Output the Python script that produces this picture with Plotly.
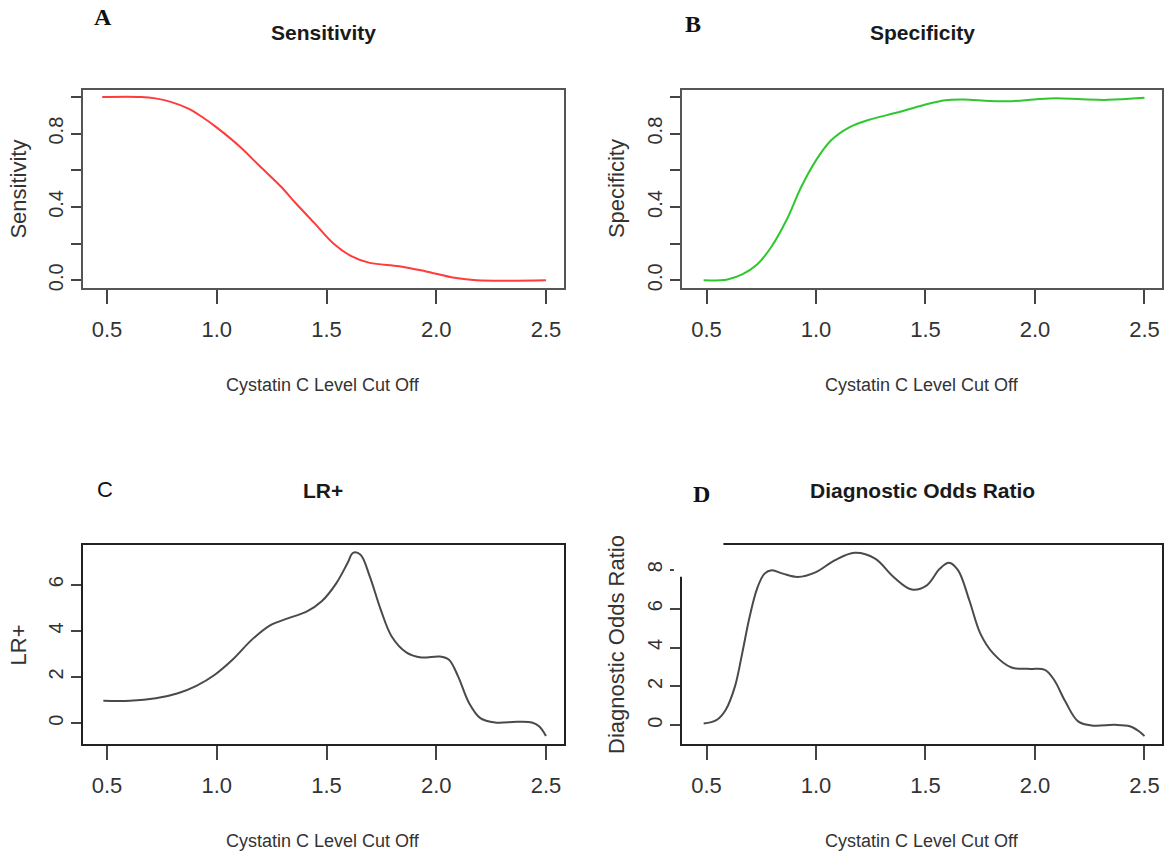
import plotly.graph_objects as go
from plotly.subplots import make_subplots

# ---- data: cut-off values and metric curves ----
sens_x = [0.478, 0.655, 0.720, 0.790, 0.873, 0.940, 0.999, 1.108, 1.192, 1.293,
          1.360, 1.445, 1.529, 1.613, 1.697, 1.831, 1.949, 2.083, 2.184, 2.5]
sens_y = [1.0, 1.0, 0.992, 0.973, 0.935, 0.885, 0.834, 0.726, 0.627, 0.510,
          0.420, 0.312, 0.204, 0.132, 0.095, 0.077, 0.050, 0.014, 0.0, 0.0]

spec_x = [0.487, 0.596, 0.663, 0.731, 0.798, 0.866, 0.933, 1.0, 1.068, 1.152,
          1.253, 1.371, 1.489, 1.590, 1.674, 1.792, 1.893, 1.995, 2.096, 2.214,
          2.332, 2.5]
spec_y = [0.0, 0.005, 0.032, 0.086, 0.186, 0.330, 0.510, 0.654, 0.762, 0.834,
          0.879, 0.915, 0.955, 0.982, 0.986, 0.978, 0.977, 0.986, 0.993, 0.987,
          0.984, 0.995]

lrp_x = [0.483, 0.604, 0.722, 0.823, 0.907, 0.991, 1.075, 1.159, 1.243, 1.327,
         1.411, 1.478, 1.545, 1.596, 1.621, 1.655, 1.697, 1.747, 1.797, 1.865,
         1.932, 2.016, 2.058, 2.100, 2.150, 2.201, 2.268, 2.369, 2.436, 2.470, 2.5]
lrp_y = [0.97, 0.97, 1.08, 1.30, 1.62, 2.10, 2.78, 3.61, 4.24, 4.55,
         4.84, 5.28, 6.07, 6.94, 7.38, 7.30, 6.36, 4.92, 3.76, 3.06,
         2.85, 2.89, 2.75, 2.02, 0.87, 0.22, 0.03, 0.06, 0.03, -0.14, -0.55]

dor_x = [0.487, 0.545, 0.588, 0.630, 0.663, 0.697, 0.731, 0.765, 0.798, 0.849,
         0.916, 1.0, 1.085, 1.177, 1.270, 1.354, 1.438, 1.506, 1.565, 1.607,
         1.649, 1.700, 1.750, 1.809, 1.893, 1.978, 2.045, 2.087, 2.138, 2.197,
         2.264, 2.365, 2.433, 2.475, 2.5]
dor_y = [0.085, 0.26, 0.80, 2.0, 3.70, 5.58, 7.03, 7.80, 7.97, 7.80,
         7.63, 7.88, 8.48, 8.87, 8.57, 7.63, 6.98, 7.20, 8.05, 8.36,
         7.97, 6.43, 4.73, 3.70, 2.97, 2.90, 2.85, 2.34, 1.23, 0.20,
         -0.02, 0.02, -0.05, -0.31, -0.56]

x_ticks = [0.5, 1.0, 1.5, 2.0, 2.5]
x_tick_text = ["0.5", "1.0", "1.5", "2.0", "2.5"]
prob_ticks = [0.0, 0.2, 0.4, 0.6, 0.8, 1.0]
prob_tick_text = ["0.0", "", "0.4", "", "0.8", ""]
lrp_ticks = [0, 2, 4, 6]
dor_ticks = [0, 2, 4, 6, 8]

panel_titles = ["Sensitivity", "Specificity", "LR+", "Diagnostic Odds Ratio"]
y_titles = ["Sensitivity", "Specificity", "LR+", "Diagnostic Odds Ratio"]
x_title = "Cystatin C Level Cut Off"
panel_letters = ["A", "B", "C", "D"]

W, H = 1164, 861


def px(x):
    return x / W


def py(y):
    return 1 - y / H


fig = make_subplots(rows=2, cols=2)

series = [
    (sens_x, sens_y, "#ff3b3b", 1, 1),
    (spec_x, spec_y, "#2ec82e", 1, 2),
    (lrp_x, lrp_y, "#4a4a4a", 2, 1),
    (dor_x, dor_y, "#4a4a4a", 2, 2),
]
for xs, ys, col, r, c in series:
    fig.add_trace(go.Scatter(x=xs, y=ys, mode="lines",
                             line=dict(color=col, width=2, shape="spline", smoothing=1.0),
                             showlegend=False, hoverinfo="skip"), row=r, col=c)

# plot-area rectangles in pixels (left, right, top, bottom)
boxes = [(83, 564, 90, 289), (683, 1163, 90, 289),
         (83, 564, 548, 747), (683, 1163, 548, 747)]
y_ranges = [[-0.04, 1.04], [-0.04, 1.04], [-0.88, 7.70], [-0.94, 9.25]]
y_tickvals = [prob_ticks, prob_ticks, lrp_ticks, dor_ticks]
y_ticktext = [prob_tick_text, prob_tick_text,
              [str(v) for v in lrp_ticks], [str(v) for v in dor_ticks]]
box_colors = ["#555555", "#555555", "#222222", "#222222"]

sans = "Liberation Sans, Arial, sans-serif"

for i in range(4):
    l, r, t, b = boxes[i]
    xa = "xaxis" if i == 0 else f"xaxis{i+1}"
    ya = "yaxis" if i == 0 else f"yaxis{i+1}"
    fig.layout[xa].update(
        domain=[px(l), px(r)], range=[0.39, 2.58], showgrid=False, zeroline=False,
        showline=True, mirror=True, linecolor=box_colors[i], linewidth=2,
        ticks="outside", ticklen=14, tickwidth=1.5, tickcolor="#444444",
        tickvals=x_ticks, ticktext=x_tick_text, ticklabelstandoff=7,
        tickfont=dict(family=sans, size=22, color="#333333"))
    fig.layout[ya].update(
        domain=[py(b), py(t)], range=y_ranges[i], showgrid=False, zeroline=False,
        showline=True, mirror=True, linecolor=box_colors[i], linewidth=2,
        ticks="outside", ticklen=10, tickwidth=1.5, tickcolor="#444444",
        tickvals=y_tickvals[i], ticktext=y_ticktext[i], tickangle=-90,
        ticklabelstandoff=0,
        tickfont=dict(family=sans, size=20, color="#333333"))

annotations = []
for i in range(4):
    l, r, t, b = boxes[i]
    cx = (l + r) / 2
    cy = (t + b) / 2
    title_y = 33 if i < 2 else 493
    annotations.append(dict(x=px(cx), y=py(title_y), xref="paper", yref="paper",
                            text=f"<b>{panel_titles[i]}</b>", showarrow=False,
                            xanchor="center", yanchor="middle",
                            font=dict(family=sans, size=21, color="#1a1a1a")))
    annotations.append(dict(x=px(cx), y=py(b + 98), xref="paper", yref="paper",
                            text=x_title, showarrow=False,
                            xanchor="center", yanchor="middle",
                            font=dict(family=sans, size=18, color="#333333")))
    ytx = 19 if i % 2 == 0 else 617
    annotations.append(dict(x=px(ytx), y=py(cy), xref="paper", yref="paper",
                            text=y_titles[i], showarrow=False, textangle=-90,
                            xanchor="center", yanchor="middle",
                            font=dict(family=sans, size=22, color="#333333")))

letter_pos = [(103, 17), (694, 24), (105, 492), (702, 496)]
letter_fonts = ["Liberation Serif", "Liberation Serif", "Liberation Sans", "Liberation Serif"]
for (lx, ly), lf, letter in zip(letter_pos, letter_fonts, panel_letters):
    serif = lf.endswith("Serif")
    annotations.append(dict(x=px(lx), y=py(ly), xref="paper", yref="paper",
                            text=f"<b>{letter}</b>" if serif else letter,
                            showarrow=False, xanchor="center", yanchor="middle",
                            font=dict(family=lf, size=24 if serif else 22,
                                      color="#111111")))

# blank patch over the upper-left corner of panel D's frame
shapes = [dict(type="rect", xref="paper", yref="paper",
               x0=px(674.5), x1=px(724), y0=py(579.5), y1=py(544),
               fillcolor="white", line=dict(width=0), layer="above")]

fig.update_layout(width=W, height=H, margin=dict(l=0, r=0, t=0, b=0),
                  paper_bgcolor="white", plot_bgcolor="white",
                  annotations=annotations, shapes=shapes, autosize=False)

fig.write_html("out.html")
